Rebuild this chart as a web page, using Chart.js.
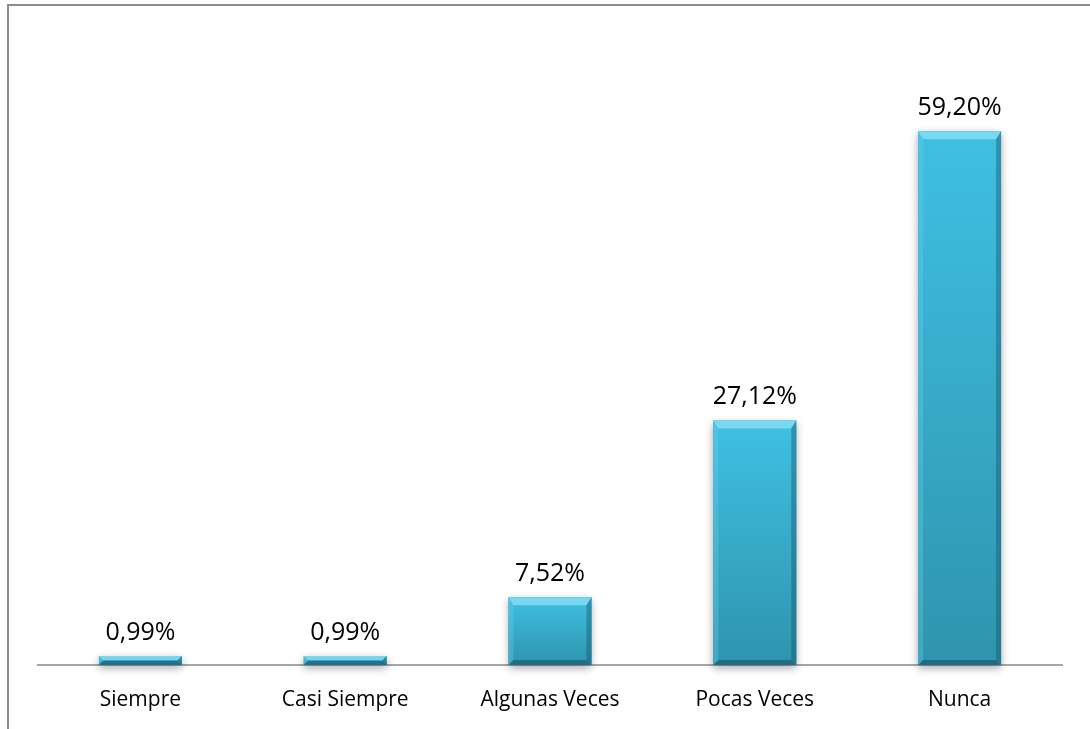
<!DOCTYPE html>
<html lang="es">
  <head>
    <meta charset="UTF-8" />
    <title>Frecuencia</title>
    <script src="https://cdn.jsdelivr.net/npm/chart.js"></script>
    <style>
      html, body { margin: 0; padding: 0; background: #fff; }
      #wrap { position: relative; width: 1090px; height: 729px; }
    </style>
  </head>
  <body>
    <div id="wrap"><canvas id="myChart"></canvas></div>

    <script>
      // categorias y porcentajes
      const categorias = ["Siempre", "Casi Siempre", "Algunas Veces", "Pocas Veces", "Nunca"];
      const porcentajes = [0.99, 0.99, 7.52, 27.12, 59.2];
      const etiquetas = ["0,99%", "0,99%", "7,52%", "27,12%", "59,20%"];

      const FONT = "'Open Sans', 'Noto Sans', sans-serif";

      // marco gris arriba e izquierda
      const marco = {
        id: "marco",
        beforeDraw(chart) {
          const c = chart.ctx;
          c.save();
          c.strokeStyle = "#8c8c8c";
          c.lineWidth = 2;
          c.beginPath();
          c.moveTo(8, chart.height);
          c.lineTo(8, 5);
          c.lineTo(chart.width, 5);
          c.stroke();
          c.restore();
        },
      };

      // barras con relieve (bisel) y sombra
      const relieve = {
        id: "relieve",
        afterDatasetsDraw(chart) {
          const c = chart.ctx;
          const meta = chart.getDatasetMeta(0);
          meta.data.forEach((bar) => {
            const x0 = bar.x - bar.width / 2;
            const x1 = bar.x + bar.width / 2;
            const y0 = bar.y;
            const y1 = bar.base;
            const h = y1 - y0;
            const b = Math.min(8, h / 2);
            const s = Math.min(5, h / 2);

            c.save();
            // sombra
            c.shadowColor = "rgba(0,0,0,0.35)";
            c.shadowBlur = 8;
            c.shadowOffsetY = 3;
            const g = c.createLinearGradient(0, y0, 0, y1);
            g.addColorStop(0, "#3fc0e3");
            g.addColorStop(1, "#2f94ae");
            c.fillStyle = g;
            c.fillRect(x0, y0, x1 - x0, h);
            c.restore();

            c.save();
            // bisel superior
            c.fillStyle = "rgba(140,225,245,0.75)";
            c.beginPath();
            c.moveTo(x0, y0);
            c.lineTo(x1, y0);
            c.lineTo(x1 - s, y0 + b);
            c.lineTo(x0 + s, y0 + b);
            c.closePath();
            c.fill();
            // bisel izquierdo
            c.fillStyle = "rgba(110,205,232,0.35)";
            c.beginPath();
            c.moveTo(x0, y0);
            c.lineTo(x0 + s, y0 + b);
            c.lineTo(x0 + s, y1 - s);
            c.lineTo(x0, y1);
            c.closePath();
            c.fill();
            // bisel derecho
            c.fillStyle = "rgba(20,80,100,0.4)";
            c.beginPath();
            c.moveTo(x1, y0);
            c.lineTo(x1 - s, y0 + b);
            c.lineTo(x1 - s, y1 - s);
            c.lineTo(x1, y1);
            c.closePath();
            c.fill();
            // bisel inferior
            c.fillStyle = "rgba(15,60,80,0.45)";
            c.beginPath();
            c.moveTo(x0, y1);
            c.lineTo(x0 + s, y1 - s);
            c.lineTo(x1 - s, y1 - s);
            c.lineTo(x1, y1);
            c.closePath();
            c.fill();
            c.restore();
          });

          // etiquetas de valor sobre cada barra
          c.save();
          c.fillStyle = "#000";
          c.font = "25px " + FONT;
          c.textAlign = "center";
          c.textBaseline = "bottom";
          meta.data.forEach((bar, i) => {
            c.fillText(etiquetas[i], bar.x, bar.y - 11);
          });
          c.restore();
        },
      };

      new Chart(document.getElementById("myChart"), {
        type: "bar",
        data: {
          labels: categorias,
          datasets: [
            {
              data: porcentajes,
              backgroundColor: "#38b2d4",
              categoryPercentage: 1,
              barPercentage: 0.405,
            },
          ],
        },
        options: {
          responsive: true,
          maintainAspectRatio: false,
          animation: false,
          plugins: {
            legend: { display: false },
            tooltip: { enabled: false },
          },
          layout: {
            padding: { left: 38, right: 28, top: 34, bottom: 0 },
          },
          scales: {
            x: {
              grid: { display: false, drawTicks: false },
              border: { display: true, color: "#a6a6a6", width: 2 },
              ticks: {
                color: "#000",
                padding: 22,
                font: { family: FONT, size: 21 },
              },
              afterFit(scale) {
                scale.height = 64;
              },
            },
            y: {
              display: false,
              min: 0,
              max: 70,
            },
          },
        },
        plugins: [marco, relieve],
      });
    </script>
  </body>
</html>
